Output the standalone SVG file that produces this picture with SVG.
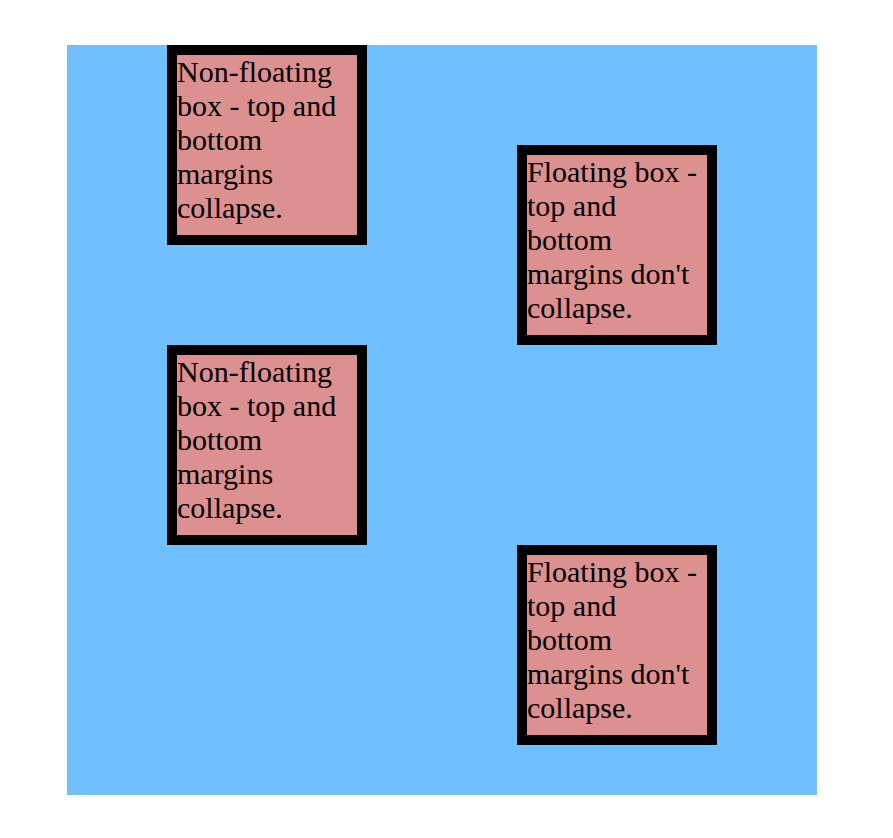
<svg xmlns="http://www.w3.org/2000/svg" width="893" height="838" viewBox="0 0 893 838">
<style>
.box{fill:#DC9090;stroke:#000;stroke-width:10}
.t{font-family:"Liberation Serif","Times New Roman",serif;font-size:30px;fill:#000}
</style>
<rect x="0" y="0" width="893" height="838" fill="#fff"/>
<rect id="container" x="67" y="45" width="750" height="750" fill="#70BFFF"/>
<g id="box1">
<rect class="box" x="172" y="50" width="190" height="190"/>
<text class="t" x="177" y="82"><tspan x="177">Non-floating</tspan><tspan x="177" dy="34">box - top and</tspan><tspan x="177" dy="34">bottom</tspan><tspan x="177" dy="34">margins</tspan><tspan x="177" dy="34">collapse.</tspan></text>
</g>
<g id="box2">
<rect class="box" x="522" y="150" width="190" height="190"/>
<text class="t" x="527" y="182"><tspan x="527">Floating box -</tspan><tspan x="527" dy="34">top and</tspan><tspan x="527" dy="34">bottom</tspan><tspan x="527" dy="34">margins don't</tspan><tspan x="527" dy="34">collapse.</tspan></text>
</g>
<g id="box3">
<rect class="box" x="172" y="350" width="190" height="190"/>
<text class="t" x="177" y="382"><tspan x="177">Non-floating</tspan><tspan x="177" dy="34">box - top and</tspan><tspan x="177" dy="34">bottom</tspan><tspan x="177" dy="34">margins</tspan><tspan x="177" dy="34">collapse.</tspan></text>
</g>
<g id="box4">
<rect class="box" x="522" y="550" width="190" height="190"/>
<text class="t" x="527" y="582"><tspan x="527">Floating box -</tspan><tspan x="527" dy="34">top and</tspan><tspan x="527" dy="34">bottom</tspan><tspan x="527" dy="34">margins don't</tspan><tspan x="527" dy="34">collapse.</tspan></text>
</g>
<g id="connectors"></g>
</svg>
